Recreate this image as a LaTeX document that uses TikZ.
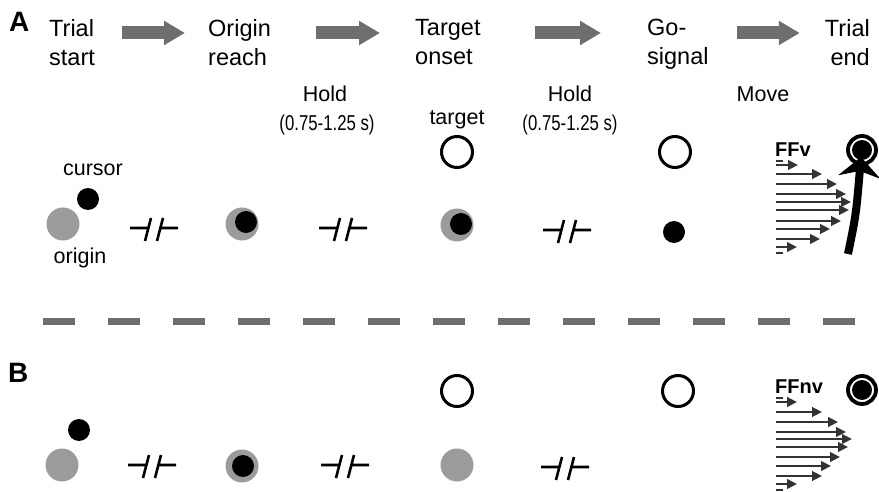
\documentclass[tikz,border=0pt]{standalone}
\usepackage{fontspec}
\setmainfont{Liberation Sans}
\usetikzlibrary{arrows.meta}
\definecolor{arrowgray}{HTML}{6E6E6E}
\definecolor{origingray}{HTML}{9B9B9B}
\definecolor{ffgray}{HTML}{333333}
\newcommand{\stagefont}{\fontsize{23.5}{29}\selectfont}
\newcommand{\labelfont}{\fontsize{21.5}{25}\selectfont}
\tikzset{
	stage/.style={font=\stagefont,inner sep=0pt},
	lbl/.style={font=\labelfont,inner sep=0pt,anchor=base},
	panel/.style={font=\fontsize{28}{32}\selectfont\bfseries,inner sep=0pt,anchor=base west},
	fflbl/.style={font=\fontsize{20}{24}\selectfont\bfseries,inner sep=0pt,anchor=base west},
	stagearrow/.style={arrowgray,line width=13pt,-{Triangle[length=21pt,width=23pt]}},
	origindot/.style={circle,fill=origingray,minimum size=33pt,inner sep=0pt},
	cursordot/.style={circle,fill=black,minimum size=22pt,inner sep=0pt},
	targetring/.style={circle,draw,line width=3pt,minimum size=31pt,inner sep=0pt},
	endring/.style={circle,draw,line width=3.8pt,minimum size=28pt,inner sep=0pt},
	ffarrow/.style={ffgray,line width=2.5pt,-{Triangle[length=10pt,width=9.5pt]}},
	ffstub/.style={ffgray,line width=2.5pt},
	sepline/.style={arrowgray,line width=7pt,dash pattern=on 32pt off 33pt},
	timebreak/.pic={
		\draw[line width=2.6pt] (-24,0) -- (-5.6,0) (-9,13) -- (-3,-10)
			(3,13) -- (9,-10) (6.4,0) -- (24,0);
	}
}

\begin{document}
\begin{tikzpicture}[x=1pt,y=-1pt]
	\useasboundingbox (0,0) rectangle (879,492);
	% panel letters
	\node[panel] (lettA) at (9,32) {A};
	\node[panel] (lettB) at (8,382) {B};
	% trial stages
	\node[stage,anchor=north west,align=left] (start) at (49,19) {Trial\\start};
	\node[stage,anchor=north west,align=left] (reach) at (208,19) {Origin\\reach};
	\node[stage,anchor=north west,align=left] (onset) at (415,19) {Target\\onset};
	\node[stage,anchor=north west,align=left] (gosig) at (647,19) {Go-\\signal};
	\node[stage,anchor=north east,align=right] (trialend) at (870,19) {Trial\\end};
	\draw[stagearrow] ([xshift=27pt,yshift=-14pt]start.north east) -- ([xshift=-23pt,yshift=-14pt]reach.north west);
	\draw[stagearrow] ([xshift=45pt,yshift=-14pt]reach.north east) -- ([xshift=-35pt,yshift=-14pt]onset.north west);
	\draw[stagearrow] ([xshift=54pt,yshift=-14pt]onset.north east) -- ([xshift=-46pt,yshift=-14pt]gosig.north west);
	\draw[stagearrow] ([xshift=28pt,yshift=-14pt]gosig.north east) -- ([xshift=-25pt,yshift=-14pt]trialend.north west);
	% phase labels
	\node[lbl] (hold1) at (325,102) {Hold};
	\node[lbl] (dur1) at (327,131) {\scalebox{0.78}[1]{(0.75-1.25 s)}};
	\node[lbl] (hold2) at (570,102) {Hold};
	\node[lbl] (dur2) at (570,131) {\scalebox{0.78}[1]{(0.75-1.25 s)}};
	\node[lbl] (move) at (763,102) {Move};
	\node[lbl] (targetlbl) at (457,125) {target};
	\node[lbl] (cursorlbl) at (93,176) {cursor};
	\node[lbl] (originlbl) at (80,263) {origin};

	% A: visual feedback
	\node[origindot] (oA1) at (63,224) {};
	\node[cursordot] (cA1) at (88,199) {};
	\pic at (154,228) {timebreak};
	\node[origindot] (oA2) at (242,224) {};
	\node[cursordot] (cA2) at (246,222) {};
	\pic at (343,228) {timebreak};
	\node[targetring] (tA3) at (457,152) {};
	\node[origindot] (oA3) at (457,225) {};
	\node[cursordot] (cA3) at (461,224) {};
	\pic at (567,230) {timebreak};
	\node[targetring] (tA4) at (675,152) {};
	\node[cursordot] (cA4) at (674,232) {};
	\node[endring] (tA5) at (862,150) {};
	\node[cursordot,minimum size=20pt] (cA5) at (862,150) {};
	\draw[line width=8pt,-{Stealth[length=20pt,width=42pt,inset=6pt]}] (848,254) .. controls (856,215) .. (861,157);
	\node[fflbl] (ffv) at (775,157) {FFv};
	\foreach \yy/\xe in {165/798,174/822,184/837,194/846,202/851,210/849,221/841,229/830,239/820,247/797}
		\draw[ffarrow] (776,\yy) -- (\xe,\yy);
	\draw[ffstub] (776,161) -- (783,161) (776,253) -- (783,253);

	% separator
	\draw[sepline] (43,321) -- (855,321);

	% B: no visual feedback
	\node[origindot] (oB1) at (62,465) {};
	\node[cursordot] (cB1) at (79,430) {};
	\pic at (152,465) {timebreak};
	\node[origindot] (oB2) at (242,466) {};
	\node[cursordot] (cB2) at (243,466) {};
	\pic at (345,465) {timebreak};
	\node[targetring] (tB3) at (457,391) {};
	\node[origindot] (oB3) at (457,465) {};
	\pic at (565,467) {timebreak};
	\node[targetring] (tB4) at (678,391) {};
	\node[endring] (tB5) at (862,390) {};
	\node[cursordot,minimum size=20pt] (cB5) at (862,390) {};
	\node[fflbl] (ffnv) at (775,393) {FFnv};
	\foreach \yy/\xe in {402/797,412/822,422/838,432/846,439/852,447/848,457/840,466/831,476/822,484/797}
		\draw[ffarrow] (776,\yy) -- (\xe,\yy);
	\draw[ffstub] (776,398) -- (783,398) (776,490) -- (783,490);
\end{tikzpicture}
\end{document}
